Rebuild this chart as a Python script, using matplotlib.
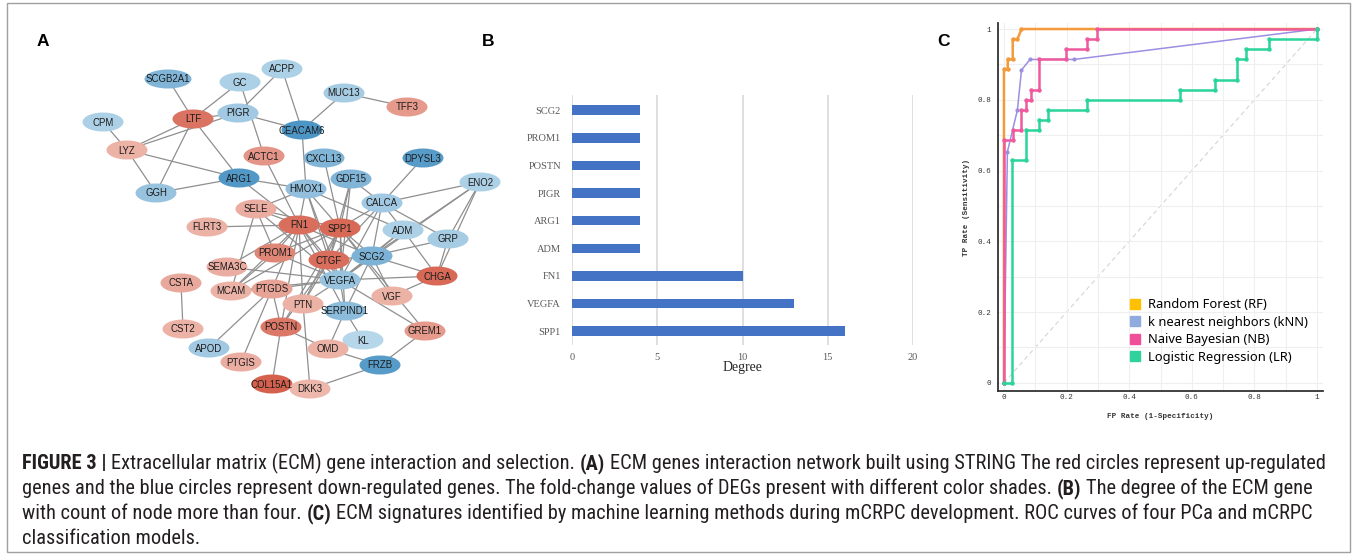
import numpy as np
import matplotlib
matplotlib.use('Agg')
import matplotlib.pyplot as plt
from matplotlib.patches import Ellipse, Rectangle, Patch
from matplotlib.colors import LinearSegmentedColormap
from matplotlib import font_manager

W, H = 1357, 556

# ---------------- panel A: ECM network ----------------
# layout positions (image pixels) and estimated fold change (sign = up/down)
node_names = ['ACPP', 'SCGB2A1', 'GC', 'MUC13', 'TFF3', 'CPM', 'LTF', 'PIGR', 'CEACAM6',
              'LYZ', 'ACTC1', 'CXCL13', 'DPYSL3', 'ARG1', 'GGH', 'HMOX1', 'GDF15', 'ENO2',
              'CALCA', 'SELE', 'FN1', 'SPP1', 'FLRT3', 'ADM', 'GRP', 'PROM1', 'CTGF', 'SCG2',
              'SEMA3C', 'CHGA', 'CSTA', 'VEGFA', 'MCAM', 'PTGDS', 'VGF', 'PTN', 'SERPIND1',
              'CST2', 'POSTN', 'GREM1', 'KL', 'APOD', 'OMD', 'FRZB', 'PTGIS', 'COL15A1', 'DKK3']
node_x = [282, 168, 240, 344, 407, 103, 193, 238, 302,
          127, 264, 324, 423, 239, 156, 306, 351, 480,
          382, 256, 299, 340, 207, 403, 448, 275, 329, 372,
          227, 437, 181, 340, 231, 272, 392, 303, 345,
          183, 281, 425, 363, 209, 328, 380, 241, 272, 310]
node_y = [69, 79, 82, 93, 107, 122, 119, 113, 130,
          150, 156, 158, 158, 178, 193, 189, 179, 182,
          203, 209, 225, 228, 227, 230, 239, 253, 260, 256,
          267, 276, 283, 280, 291, 289, 296, 304, 311,
          329, 327, 331, 340, 348, 349, 365, 362, 384, 389]
node_fc = [-1.2, -2.0, -1.2, -1.3, 1.8, -1.2, 2.6, -1.4, -3.0,
           1.3, 1.9, -2.0, -2.8, -2.9, -1.6, -1.7, -2.0, -1.2,
           -1.4, 1.4, 2.7, 2.8, 1.3, -1.2, -1.3, 2.2, 2.7, -2.1,
           1.4, 2.8, 1.5, -1.6, 1.3, 1.6, 1.3, 1.3, -1.8,
           1.3, 2.5, 1.8, -1.0, -1.4, 1.3, -2.8, 1.4, 3.0, 1.2]
edges = [
    ('SCGB2A1', 'LTF'), ('GC', 'LTF'), ('GC', 'ACTC1'), ('ACPP', 'PIGR'), ('ACPP', 'CEACAM6'),
    ('MUC13', 'CEACAM6'), ('MUC13', 'TFF3'), ('PIGR', 'CEACAM6'), ('LTF', 'PIGR'),
    ('CPM', 'LYZ'), ('LYZ', 'LTF'), ('LYZ', 'PIGR'), ('LTF', 'GGH'), ('LTF', 'ARG1'),
    ('LYZ', 'ARG1'), ('LYZ', 'GGH'), ('GGH', 'ARG1'), ('ARG1', 'HMOX1'), ('ARG1', 'FN1'),
    ('CEACAM6', 'HMOX1'), ('CXCL13', 'SPP1'), ('DPYSL3', 'CALCA'),
    ('GDF15', 'SPP1'), ('GDF15', 'VEGFA'), ('GDF15', 'CALCA'), ('GDF15', 'CTGF'),
    ('HMOX1', 'SELE'), ('HMOX1', 'FN1'), ('HMOX1', 'SPP1'), ('HMOX1', 'ADM'),
    ('HMOX1', 'VEGFA'), ('HMOX1', 'CTGF'),
    ('ENO2', 'CALCA'), ('ENO2', 'SCG2'), ('ENO2', 'CHGA'), ('ENO2', 'VEGFA'), ('ENO2', 'GRP'),
    ('CALCA', 'SPP1'), ('CALCA', 'ADM'), ('CALCA', 'GRP'), ('CALCA', 'VEGFA'),
    ('CALCA', 'SCG2'), ('CALCA', 'CTGF'),
    ('SELE', 'FN1'), ('SELE', 'SPP1'), ('SELE', 'PROM1'), ('SELE', 'MCAM'), ('SELE', 'VEGFA'),
    ('FLRT3', 'FN1'), ('FN1', 'SPP1'), ('FN1', 'PROM1'), ('FN1', 'CTGF'), ('FN1', 'VEGFA'),
    ('FN1', 'MCAM'), ('FN1', 'PTGDS'), ('FN1', 'PTN'), ('FN1', 'SCG2'), ('FN1', 'POSTN'),
    ('FN1', 'SERPIND1'), ('FN1', 'SEMA3C'),
    ('SPP1', 'CTGF'), ('SPP1', 'VEGFA'), ('SPP1', 'SCG2'), ('SPP1', 'PTN'), ('SPP1', 'SERPIND1'),
    ('SPP1', 'MCAM'), ('SPP1', 'PROM1'), ('SPP1', 'VGF'), ('SPP1', 'POSTN'), ('SPP1', 'GREM1'),
    ('ADM', 'SCG2'), ('ADM', 'VEGFA'), ('ADM', 'CHGA'), ('GRP', 'SCG2'), ('GRP', 'CHGA'),
    ('SCG2', 'VEGFA'), ('SCG2', 'CHGA'), ('SCG2', 'VGF'), ('SCG2', 'CTGF'), ('SCG2', 'SERPIND1'),
    ('CHGA', 'VGF'), ('CHGA', 'VEGFA'),
    ('VEGFA', 'CTGF'), ('VEGFA', 'PROM1'), ('VEGFA', 'SEMA3C'), ('VEGFA', 'PTGDS'),
    ('VEGFA', 'PTN'), ('VEGFA', 'SERPIND1'), ('VEGFA', 'GREM1'), ('VEGFA', 'MCAM'),
    ('CSTA', 'CST2'), ('PTGDS', 'APOD'), ('PTGDS', 'PTGIS'), ('PTGDS', 'MCAM'),
    ('POSTN', 'COL15A1'), ('POSTN', 'OMD'), ('PTN', 'DKK3'), ('SERPIND1', 'KL'),
    ('SERPIND1', 'OMD'), ('OMD', 'FRZB'), ('FRZB', 'GREM1'), ('FRZB', 'DKK3'),
    ('PROM1', 'MCAM'), ('CTGF', 'POSTN'), ('CTGF', 'PTN'), ('ACTC1', 'FN1'), ('PTGDS', 'POSTN'),
]

# ---------------- panel B: degree ----------------
deg_genes = ['SCG2', 'PROM1', 'POSTN', 'PIGR', 'ARG1', 'ADM', 'FN1', 'VEGFA', 'SPP1']
deg_values = [4, 4, 4, 4, 4, 4, 10, 13, 16]

# ---------------- panel C: ROC curves ----------------
rf_fpr = [0, 0, 0.012, 0.012, 0.028, 0.028, 0.043, 0.056, 1.0]
rf_tpr = [0, 0.886, 0.886, 0.914, 0.914, 0.971, 0.971, 1.0, 1.0]
knn_fpr = [0, 0.011, 0.043, 0.056, 0.083, 0.224, 1.0]
knn_tpr = [0, 0.653, 0.771, 0.884, 0.914, 0.914, 1.0]
nb_fpr = [0, 0, 0.028, 0.028, 0.056, 0.056, 0.070, 0.070, 0.085, 0.085, 0.113, 0.113,
          0.197, 0.197, 0.266, 0.266, 0.296, 0.296, 1.0]
nb_tpr = [0, 0.686, 0.686, 0.714, 0.714, 0.771, 0.771, 0.800, 0.800, 0.829, 0.829, 0.914,
          0.914, 0.943, 0.943, 0.971, 0.971, 1.0, 1.0]
lr_fpr = [0, 0.027, 0.027, 0.070, 0.070, 0.113, 0.113, 0.142, 0.142, 0.266, 0.266, 0.562,
          0.562, 0.675, 0.675, 0.745, 0.745, 0.773, 0.773, 0.845, 0.845, 1.0, 1.0]
lr_tpr = [0, 0, 0.629, 0.629, 0.714, 0.714, 0.743, 0.743, 0.771, 0.771, 0.800, 0.800,
          0.829, 0.829, 0.857, 0.857, 0.914, 0.914, 0.943, 0.943, 0.971, 0.971, 1.0]
roc_labels = ['Random Forest (RF)', 'k nearest neighbors (kNN)',
              'Naive Bayesian (NB)', 'Logistic Regression (LR)']

caption_lines = [
    [("FIGURE 3 |", True), ("Extracellular matrix (ECM) gene interaction and selection.", False),
     ("(A)", True), ("ECM genes interaction network built using STRING The red circles represent up-regulated", False)],
    [("genes and the blue circles represent down-regulated genes. The fold-change values of DEGs "
      "present with different color shades.", False), ("(B)", True), ("The degree of the ECM gene", False)],
    [("with count of node more than four.", False), ("(C)", True),
     ("ECM signatures identified by machine learning methods during mCRPC development. "
      "ROC curves of four PCa and mCRPC", False)],
    [("classification models.", False)],
]

fig = plt.figure(figsize=(W / 100, H / 100), dpi=100)
fig.patch.set_facecolor('white')

# full-figure pixel axes for network, letters, caption, frame
ax0 = fig.add_axes([0, 0, 1, 1])
ax0.set_xlim(0, W)
ax0.set_ylim(H, 0)
ax0.axis('off')

ax0.add_patch(Rectangle((7, 3), W - 14, H - 7, fill=False, ec='#a0a0a0', lw=1))

up_cmap = LinearSegmentedColormap.from_list('up', ['#f0c0b6', '#d5604d'])
down_cmap = LinearSegmentedColormap.from_list('down', ['#b6d6ea', '#4d95c5'])

pos = {n: (x, y) for n, x, y in zip(node_names, node_x, node_y)}
for a, b in edges:
    ax0.plot([pos[a][0], pos[b][0]], [pos[a][1], pos[b][1]], color='#8f8f8f', lw=0.9, zorder=1)

for n, x, y, fc in zip(node_names, node_x, node_y, node_fc):
    t = min(max((abs(fc) - 1.0) / 2.0, 0), 1)
    col = up_cmap(t) if fc > 0 else down_cmap(t)
    w = 47 if n == 'SCGB2A1' else 41
    ax0.add_patch(Ellipse((x, y), w, 19, fc=col, ec='none', zorder=2))
    ax0.text(x, y + 0.5, n, ha='center', va='center', fontsize=6.9,
             family='Liberation Sans', color='#1c1c1c', zorder=3)

for letter, lx in [('A', 43), ('B', 488), ('C', 943)]:
    ax0.text(lx, 41, letter, ha='center', va='center', fontsize=12.5,
             fontweight='bold', family='Liberation Sans', color='black')

# ---- bar chart ----
ax1 = fig.add_axes([572 / W, 1 - 345 / H, (913 - 572) / W, 250 / H])
ypos = np.arange(len(deg_genes))
ax1.barh(ypos, deg_values, height=0.34, color='#4472c4', zorder=3)
ax1.set_ylim(8.5, -0.55)
ax1.set_xlim(0, 20)
ax1.set_xticks([0, 5, 10, 15, 20])
ax1.set_yticks(ypos)
ax1.set_yticklabels(deg_genes)
ax1.grid(axis='x', color='#d9d9d9', lw=1.2, zorder=0)
ax1.set_axisbelow(True)
for s in ax1.spines.values():
    s.set_visible(False)
ax1.tick_params(length=0, labelsize=7.5, labelcolor='#595959')
ax1.tick_params(axis='y', pad=8)
ax1.tick_params(axis='x', pad=6)
for lab in ax1.get_xticklabels() + ax1.get_yticklabels():
    lab.set_family('Liberation Serif')
ax1.set_xlabel('Degree', fontsize=10, family='Liberation Serif', color='#262626', labelpad=-1)
ax1.patch.set_alpha(0)

# ---- ROC ----
ax2 = fig.add_axes([998 / W, 1 - 391 / H, 325 / W, 368 / H])
ax2.set_xlim(-0.019, 1.019)
ax2.set_ylim(-0.023, 1.017)
ax2.set_xticks(np.arange(0, 1.01, 0.1), minor=True)
ax2.set_yticks(np.arange(0, 1.01, 0.1), minor=True)
ticks = [0, 0.2, 0.4, 0.6, 0.8, 1.0]
tick_text = ['0', '0.2', '0.4', '0.6', '0.8', '1']
ax2.set_xticks(ticks)
ax2.set_xticklabels(tick_text)
ax2.set_yticks(ticks)
ax2.set_yticklabels(tick_text)
ax2.grid(which='both', color='#efefef', lw=0.8, zorder=0)
ax2.tick_params(which='both', length=0, labelsize=5.5, labelcolor='#333333')
ax2.tick_params(axis='y', pad=5)
ax2.tick_params(axis='x', pad=2)
for lab in ax2.get_xticklabels() + ax2.get_yticklabels():
    lab.set_family('Liberation Mono')
for s in ['top', 'right']:
    ax2.spines[s].set_visible(False)
for s in ['left', 'bottom']:
    ax2.spines[s].set_color('#333333')
    ax2.spines[s].set_linewidth(1.3)
ax2.set_xlabel('FP Rate (1-Specificity)', fontsize=5.5, family='Liberation Mono',
               fontweight='bold', color='#333333', labelpad=9)
ax2.set_ylabel('TP Rate (Sensitivity)', fontsize=5.5, family='Liberation Mono',
               fontweight='bold', color='#333333', labelpad=5)
ax2.plot([0, 1], [0, 1], ls=(0, (4, 3)), color='#d4d4d4', lw=0.8, zorder=1)

ax2.plot(rf_fpr, rf_tpr, color='#f39a3c', lw=1.8, marker='o', ms=2.2, zorder=3)
ax2.plot(knn_fpr, knn_tpr, color='#9a8fe0', lw=1.1, marker='o', ms=2.0, zorder=3)
ax2.plot(nb_fpr, nb_tpr, color='#ee5a9d', lw=1.8, marker='o', ms=2.2, zorder=4)
ax2.plot(lr_fpr, lr_tpr, color='#2bd49a', lw=1.8, marker='o', ms=2.2, zorder=4)

handles = [Patch(color=c) for c in ['#ffc000', '#8faadc', '#f0509a', '#2fd29c']]
ax2.legend(handles, roc_labels, loc='upper left', bbox_to_anchor=(0.385, 0.27),
           frameon=False, handlelength=0.8, handleheight=0.8,
           handletextpad=0.6, labelspacing=0.35, borderpad=0,
           prop={'family': 'Noto Sans', 'size': 9.3})

# ---- caption ----
avail = {f.name for f in font_manager.fontManager.ttflist}
cap_family = 'Liberation Sans'
for cand in ['Liberation Sans Narrow', 'Roboto Condensed', 'Open Sans Condensed']:
    if cand in avail:
        cap_family = cand
        break

renderer = fig.canvas.get_renderer()


def text_width(s, size, bold):
    t = ax0.text(0, 0, s, fontsize=size, family=cap_family,
                 fontweight='bold' if bold else 'normal')
    w = t.get_window_extent(renderer).width
    t.remove()
    return w


def line_width(parts, size):
    sp = text_width('x x', size, False) - text_width('xx', size, False)
    return sum(text_width(s, size, b) for s, b in parts) + sp * (len(parts) - 1)


base = 10.0
cap_size = base * (1316 - 22) / line_width(caption_lines[0], base)
space = text_width('x x', cap_size, False) - text_width('xx', cap_size, False)
for i, parts in enumerate(caption_lines):
    x = 22
    y = 464 + 25 * i + 5
    for s, b in parts:
        ax0.text(x, y, s, fontsize=cap_size, family=cap_family, va='baseline',
                 fontweight='bold' if b else 'normal', color='#231f20')
        x += text_width(s, cap_size, b) + space

fig.savefig('out.png', dpi=100, facecolor='white')
